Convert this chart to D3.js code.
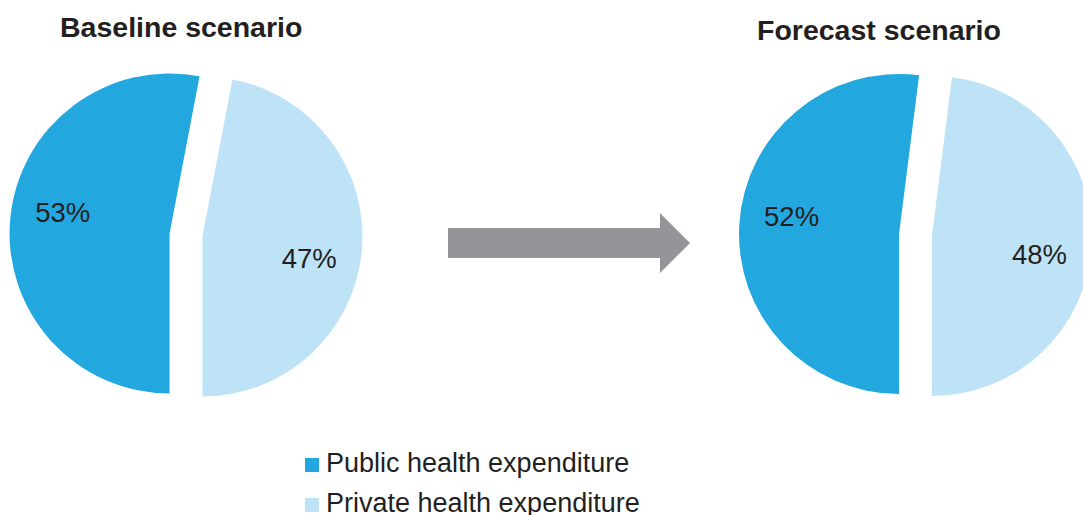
<!DOCTYPE html>
<html>
<head>
<meta charset="utf-8">
<script src="https://cdn.jsdelivr.net/npm/d3@7"></script>
<style>
  body { margin: 0; background: #fff; }
  text { font-family: "Liberation Sans", Arial, sans-serif; fill: #231f20; }
</style>
</head>
<body>
<script>
// data
const scenarios = ["Baseline scenario", "Forecast scenario"];
const categories = ["Public health expenditure", "Private health expenditure"];
const publicShare = [53, 52];
const privateShare = [47, 48];
const colors = ["#22a7df", "#bee3f7"];

const width = 1083, height = 515;
const svg = d3.select("body").append("svg")
  .attr("width", width).attr("height", height);

// pie layout: start at 6 o'clock, go clockwise
const pie = d3.pie().sort(null).value(d => d)
  .startAngle(Math.PI).endAngle(3 * Math.PI);

const radius = 160;
const explode = 16.5;
const arc = d3.arc().innerRadius(0).outerRadius(radius);

const centers = [[186, 235], [915.5, 235]];
const titlePos = [[60, 37], [757, 40]];

scenarios.forEach(function(name, i) {
  let values = [publicShare[i], privateShare[i]];
  let g = svg.append("g")
    .attr("transform", "translate(" + centers[i][0] + "," + centers[i][1] + ")");

  let slices = g.selectAll("g.slice")
    .data(pie(values))
    .enter()
    .append("g")
      .attr("class", "slice")
      .attr("transform", function(d) {
        let mid = (d.startAngle + d.endAngle) / 2;
        return "translate(" + (explode * Math.sin(mid)) + "," + (-explode * Math.cos(mid)) + ")";
      });

  slices.append("path")
    .attr("d", arc)
    .style("fill", (d, j) => colors[j]);

  // labels a little rotated from the bisector
  slices.append("text")
    .attr("x", function(d) {
      let a = (d.startAngle + d.endAngle) / 2 + 6 * Math.PI / 180;
      return 109 * Math.sin(a);
    })
    .attr("y", function(d) {
      let a = (d.startAngle + d.endAngle) / 2 + 6 * Math.PI / 180;
      return -109 * Math.cos(a);
    })
    .attr("dy", "0.36em")
    .attr("text-anchor", "middle")
    .style("font-size", "27.5px")
    .text(d => d.data + "%");

  svg.append("text")
    .attr("x", titlePos[i][0])
    .attr("y", titlePos[i][1])
    .style("font-size", "28.5px")
    .style("font-weight", "bold")
    .text(name);
});

// arrow
svg.append("path")
  .attr("d", "M448,228 L660,228 L660,213 L690,243 L660,273 L660,258 L448,258 Z")
  .style("fill", "#939598");

// legend
let legend = svg.selectAll("g.legend")
  .data(categories)
  .enter()
  .append("g")
    .attr("class", "legend")
    .attr("transform", (d, i) => "translate(305," + (458 + i * 40) + ")");

legend.append("rect")
  .attr("width", 14).attr("height", 14)
  .style("fill", (d, i) => colors[i]);

legend.append("text")
  .attr("x", 21)
  .attr("y", 14)
  .style("font-size", "27px")
  .text(d => d);
</script>
</body>
</html>
